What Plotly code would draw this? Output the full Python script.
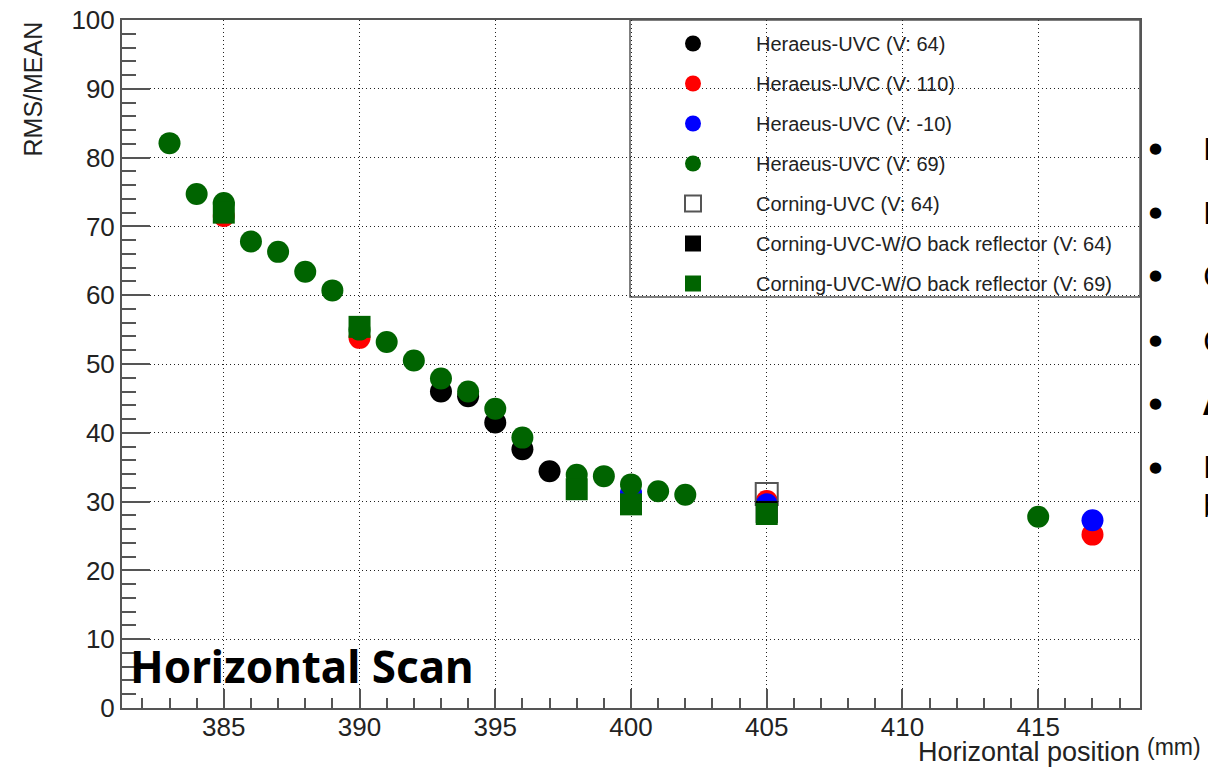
import plotly.graph_objects as go

# ---------------- data ----------------
her64_x = [393, 394, 395, 396, 397]
her64_y = [46.0, 45.3, 41.5, 37.6, 34.4]

her110_x = [385, 390, 405, 417]
her110_y = [71.5, 53.8, 30.1, 25.2]

herm10_x = [400, 405, 417]
herm10_y = [31.3, 29.6, 27.3]

her69_x = [383, 384, 385, 386, 387, 388, 389, 390, 391, 392, 393, 394, 395, 396,
           398, 399, 400, 401, 402, 415]
her69_y = [82.1, 74.7, 73.4, 67.8, 66.3, 63.4, 60.7, 55.0, 53.2, 50.5, 47.9, 46.0, 43.5, 39.3,
           33.9, 33.7, 32.5, 31.5, 31.0, 27.8]

cor64_x = [405]
cor64_y = [31.1]

cornobr64_x = [405]
cornobr64_y = [28.5]

cornobr69_x = [385, 390, 398, 400, 405]
cornobr69_y = [72.0, 55.4, 31.8, 29.6, 28.2]

x_ticks = [385, 390, 395, 400, 405, 410, 415]
y_ticks = [0, 10, 20, 30, 40, 50, 60, 70, 80, 90, 100]

bullet_letters = ["F", "F", "C", "C", "A", "E"]

# ---------------- figure ----------------
OFF = 8                      # default page margin of the html body
W, H = 1216 - OFF, 772 - OFF
L, T = 122 - OFF, 20 - OFF
PW, PH = 1018, 688
R, B = W - L - PW, H - T - PH


def px(xp):   # page pixel -> paper x
    return (xp - OFF - L) / PW


def py(yp):   # page pixel -> paper y
    return (T + PH - (yp - OFF)) / PH


AX = "#555555"
GREEN = "#006400"

series = [
    ("Heraeus-UVC (V: 64)", her64_x, her64_y, "circle", "black", None),
    ("Heraeus-UVC (V: 110)", her110_x, her110_y, "circle", "#ff0000", None),
    ("Heraeus-UVC (V: -10)", herm10_x, herm10_y, "circle", "#0000ff", None),
    ("Heraeus-UVC (V: 69)", her69_x, her69_y, "circle", GREEN, None),
    ("Corning-UVC (V: 64)", cor64_x, cor64_y, "square-open", "#555555", 2),
    ("Corning-UVC-W/O back reflector (V: 64)", cornobr64_x, cornobr64_y, "square", "black", None),
    ("Corning-UVC-W/O back reflector (V: 69)", cornobr69_x, cornobr69_y, "square", GREEN, None),
]

fig = go.Figure()
for name, xs, ys, sym, col, lw in series:
    marker = dict(symbol=sym, size=22, color=col)
    marker["line"] = dict(width=lw, color=col) if lw else dict(width=0)
    fig.add_trace(go.Scatter(x=xs, y=ys, mode="markers", name=name, marker=marker,
                             legendgroup=name))

fig.update_layout(
    width=W, height=H,
    margin=dict(l=L, r=R, t=T, b=B, pad=0, autoexpand=False),
    plot_bgcolor="white", paper_bgcolor="white",
    font=dict(family="Liberation Sans, Arial, Helvetica", color="#222222"),
    showlegend=True,
    legend=dict(x=px(630), y=py(24), xanchor="left", yanchor="top",
                bgcolor="rgba(0,0,0,0)", borderwidth=0,
                font=dict(size=20, color="#222222"),
                itemwidth=116, tracegroupgap=11, traceorder="grouped"),
)

common = dict(showline=True, linecolor=AX, linewidth=2, mirror=True,
              ticks="inside", tickcolor=AX, tickwidth=2, automargin=False,
              ticklabeloverflow="allow",
              showgrid=True, gridcolor="#222222", gridwidth=1, griddash="1px,3px",
              zeroline=False, tickfont=dict(size=26, color="#222222"))

fig.update_xaxes(range=[381.25, 418.75], tickvals=x_ticks, ticklen=19, ticklabelstandoff=-5,
                 minor=dict(dtick=1, ticklen=10, tickwidth=2, tickcolor=AX, ticks="inside",
                            showgrid=False),
                 **common)
fig.update_yaxes(range=[0, 100], tickvals=y_ticks, ticklen=28,
                 minor=dict(dtick=2, ticklen=14, tickwidth=2, tickcolor=AX, ticks="inside",
                            showgrid=False),
                 **common)

# legend box
fig.add_shape(type="rect", xref="paper", yref="paper",
              x0=px(630), x1=1, y0=py(297), y1=1,
              line=dict(color=AX, width=1.5), fillcolor="white", layer="between")

ann = []
ann.append(dict(text="RMS/MEAN", x=px(32), y=1, xref="paper", yref="paper",
                xanchor="center", yanchor="top", textangle=-90, showarrow=False,
                font=dict(size=25, color="#222222")))
ann.append(dict(text="Horizontal position", x=px(1142), y=py(752), xref="paper", yref="paper",
                xanchor="right", yanchor="middle", showarrow=False,
                font=dict(size=27, color="#222222")))
ann.append(dict(text="(mm)", x=px(1145), y=py(747), xref="paper", yref="paper",
                xanchor="left", yanchor="middle", showarrow=False,
                font=dict(size=23, color="#222222")))
ann.append(dict(text="<b>Horizontal Scan</b>", x=px(128), y=py(666), xref="paper", yref="paper",
                xanchor="left", yanchor="middle", showarrow=False,
                font=dict(size=44, color="black", family="Noto Sans, Arial")))
bullet_y = [148, 212, 275, 340, 403, 467]
for yy, letter in zip(bullet_y, bullet_letters):
    ann.append(dict(text="●", x=px(1155), y=py(yy), xref="paper", yref="paper",
                    xanchor="center", yanchor="middle", showarrow=False,
                    font=dict(size=15, color="black", family="DejaVu Sans")))
    txt = "<b>%s</b>" % letter if letter == "A" else letter
    ann.append(dict(text=txt, x=px(1201), y=py(yy), xref="paper", yref="paper",
                    xanchor="left", yanchor="middle", showarrow=False,
                    font=dict(size=30, color="black", family="Noto Sans, Arial")))
ann.append(dict(text="b", x=px(1201), y=py(505), xref="paper", yref="paper",
                xanchor="left", yanchor="middle", showarrow=False,
                font=dict(size=30, color="black", family="Noto Sans, Arial")))
fig.update_layout(annotations=ann)

fig.write_html("out.html")
